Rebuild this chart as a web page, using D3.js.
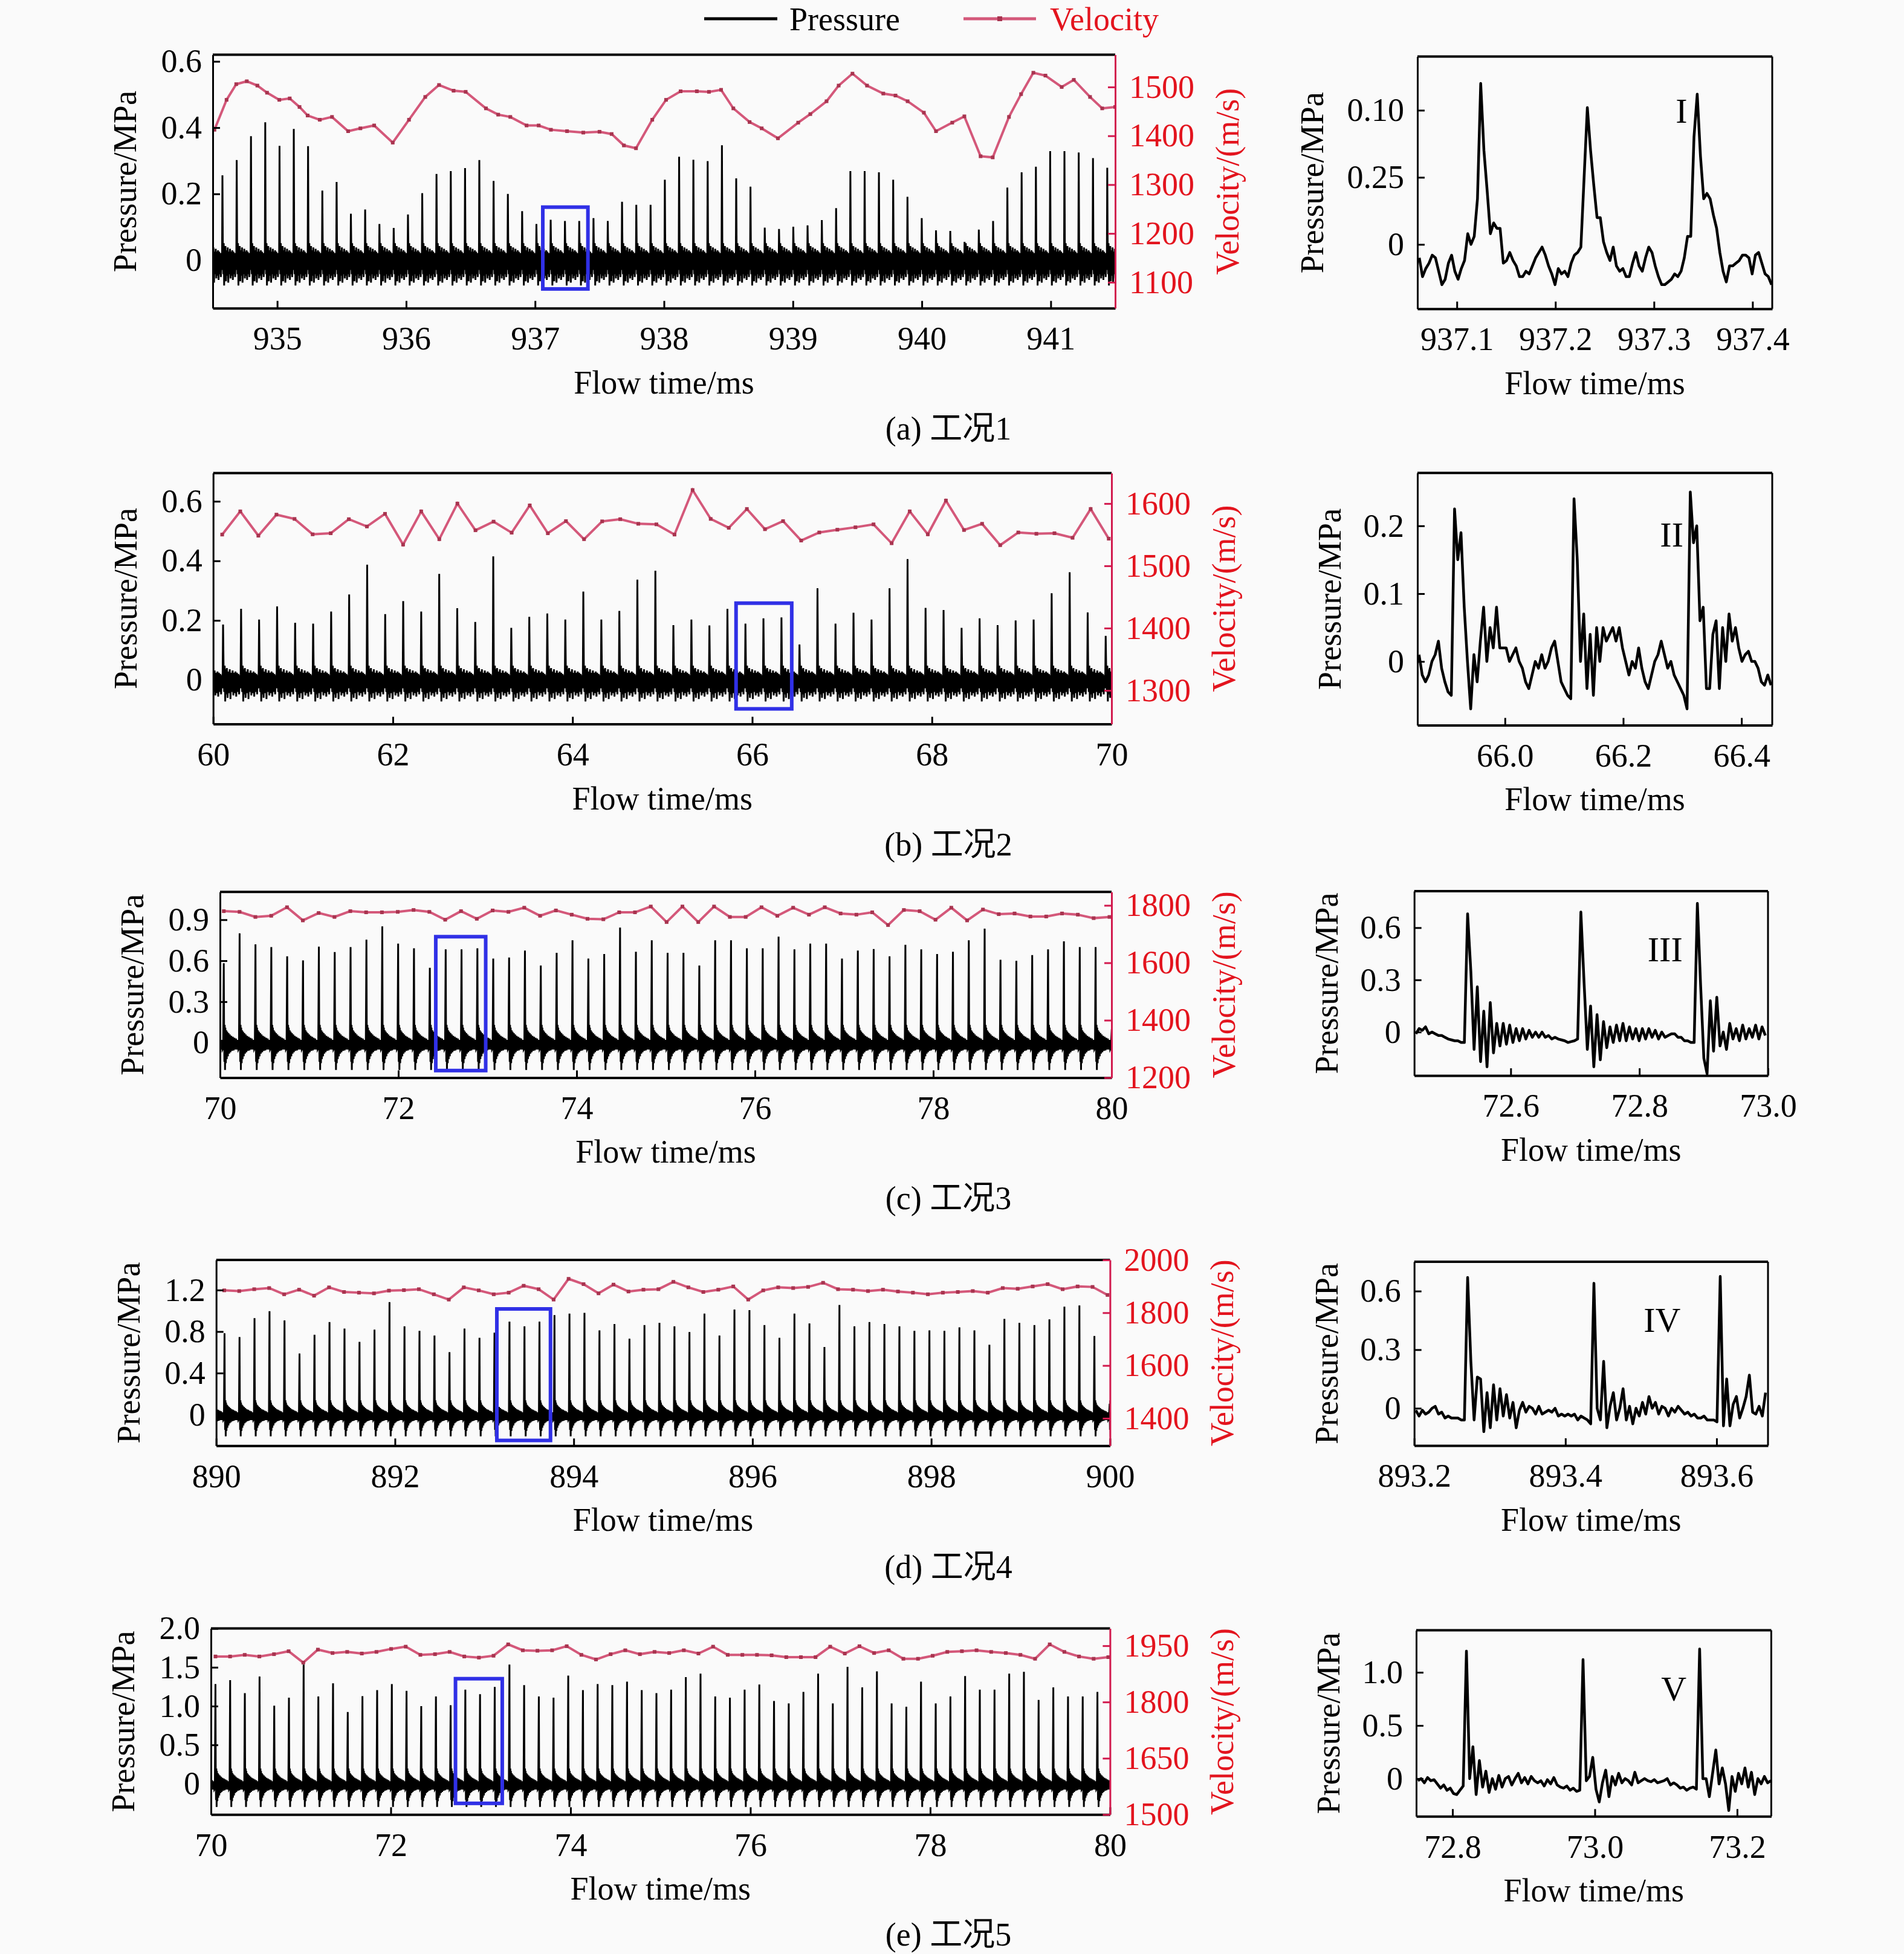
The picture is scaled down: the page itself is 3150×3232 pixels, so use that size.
<!DOCTYPE html>
<html>
<head>
<meta charset="utf-8">
<script src="https://cdn.jsdelivr.net/npm/d3@7"></script>
<style>
  body { margin: 0; background: #fafafa; }
</style>
</head>
<body>
<div id="chart"></div>
<script>
// ---------- data ----------
var captions = ["(a) 工况1", "(b) 工况2", "(c) 工况3", "(d) 工况4", "(e) 工况5"];
var insetMarks = ["I", "II", "III", "IV", "V"];

// pressure spikes: first spike time, spike period (ms) and peak heights (MPa)
var spikeStart = [934.575, 60.11, 70.042, 890.093, 70.05];
var spikePeriod = [0.1107, 0.2005, 0.1778, 0.1678, 0.1635];
var peaksA = [0.256,0.302,0.374,0.416,0.345,0.396,0.344,0.21,0.236,0.14,0.153,0.109,0.097,0.138,0.202,0.26,0.269,0.278,0.302,0.239,0.2,0.148,0.109,0.122,0.118,0.118,0.127,0.118,0.176,0.167,0.167,0.243,0.312,0.303,0.299,0.347,0.247,0.222,0.098,0.094,0.101,0.105,0.121,0.157,0.269,0.269,0.265,0.243,0.191,0.127,0.09,0.088,0.055,0.092,0.118,0.219,0.265,0.282,0.329,0.329,0.325,0.308,0.279];
var peaksB = [0.186,0.239,0.203,0.247,0.192,0.189,0.230,0.287,0.387,0.221,0.265,0.230,0.356,0.241,0.195,0.415,0.175,0.212,0.223,0.203,0.297,0.203,0.232,0.337,0.367,0.184,0.203,0.183,0.239,0.189,0.207,0.210,0.119,0.308,0.189,0.226,0.203,0.308,0.406,0.242,0.235,0.175,0.207,0.184,0.200,0.203,0.291,0.362,0.227,0.148];
var peaksC = [0.582,0.801,0.72,0.70,0.632,0.602,0.703,0.663,0.70,0.754,0.852,0.725,0.691,0.548,0.683,0.683,0.691,0.616,0.624,0.675,0.565,0.658,0.75,0.616,0.649,0.843,0.666,0.75,0.658,0.658,0.565,0.75,0.75,0.691,0.691,0.776,0.683,0.725,0.725,0.616,0.675,0.686,0.632,0.717,0.683,0.649,0.666,0.75,0.835,0.607,0.599,0.641,0.683,0.742,0.70,0.70];
var peaksD = [0.784,0.747,0.929,0.996,0.907,0.589,0.769,0.891,0.829,0.70,0.818,1.084,0.851,0.807,0.762,0.602,0.829,0.74,0.789,0.896,0.851,0.896,0.958,0.973,0.98,0.811,0.873,0.731,0.862,0.884,0.851,0.796,0.973,0.762,1.013,1.007,0.862,0.74,0.973,0.878,0.651,1.056,0.851,0.891,0.873,0.851,0.807,0.811,0.807,0.84,0.811,0.673,0.922,0.884,0.862,0.918,1.04,1.051,0.758];
var peaksE = [1.285,1.335,1.168,1.382,1.006,1.109,1.535,1.124,1.294,0.924,1.129,1.206,1.285,1.197,1.0,1.124,1.012,1.212,1.153,1.247,1.535,1.271,1.124,1.109,1.394,1.206,1.285,1.271,1.315,1.206,1.168,1.212,1.374,1.418,1.124,1.109,1.212,1.279,1.065,1.035,1.182,1.418,1.035,1.506,1.241,1.447,1.035,0.991,1.315,1.035,1.124,1.388,1.212,1.212,1.418,1.441,1.079,1.241,1.124,1.124,1.182];

// noise between spikes: [fraction of period, relative level], and its size per case (MPa)
var rippleFlat = [[0.03,0.35],[0.06,-0.5],[0.09,0.6],[0.12,-0.9],[0.15,0.45],[0.18,-0.6],[0.21,0.5],[0.25,-0.75],[0.29,0.35],[0.33,-0.55],[0.37,0.45],[0.41,-0.8],[0.45,0.3],[0.49,-0.5],[0.53,0.4],[0.57,-0.65],[0.61,0.3],[0.65,-0.55],[0.69,0.35],[0.73,-0.7],[0.77,0.3],[0.81,-0.5],[0.85,0.25],[0.89,-0.6],[0.93,0.2],[0.97,-0.35]];
var rippleDecay = [[0.02,0.5],[0.04,-0.7],[0.06,0.65],[0.08,-1.0],[0.10,0.55],[0.13,-0.75],[0.16,0.45],[0.19,-0.6],[0.22,0.4],[0.26,-0.5],[0.30,0.35],[0.34,-0.4],[0.38,0.3],[0.42,-0.35],[0.47,0.25],[0.52,-0.3],[0.57,0.22],[0.62,-0.28],[0.67,0.18],[0.72,-0.25],[0.77,0.15],[0.82,-0.25],[0.87,0.1],[0.92,-0.25],[0.96,-0.2]];
var noiseAmp = [0.085, 0.08, 0.2, 0.21, 0.3];

// velocity (m/s)
var velTimesA = [934.513,934.607,934.682,934.764,934.846,934.921,935.016,935.097,935.173,935.236,935.330,935.425,935.550,935.645,935.752,935.896,936.022,936.148,936.255,936.368,936.462,936.619,936.714,936.808,936.934,937.028,937.123,937.248,937.374,937.500,937.594,937.689,937.783,937.909,938.016,938.129,938.255,938.349,938.443,938.538,938.664,938.758,938.884,939.041,939.135,939.261,939.355,939.462,939.575,939.701,939.796,939.890,940.016,940.110,940.236,940.330,940.456,940.550,940.676,940.770,940.865,940.959,941.085,941.179,941.305,941.399,941.5];
var velA = [1412.4,1473.7,1505.8,1511.7,1502.9,1488.3,1473.7,1476.6,1459.1,1441.6,1432.9,1438.7,1409.5,1415.3,1421.2,1386.1,1432.9,1479.6,1504.1,1492.4,1490.1,1456.2,1443.4,1438.7,1421.2,1421.2,1412.4,1409.5,1406.6,1408.3,1403.7,1380.3,1374.5,1432.9,1473.7,1491.2,1491.2,1490.1,1494.2,1456.2,1428.2,1415.3,1394.9,1427,1444.5,1470.8,1502.9,1527.4,1502.9,1486.6,1482.5,1470.8,1447.4,1409.5,1427,1439.9,1358.1,1355.8,1438.7,1485.4,1529.2,1523.4,1500,1514.6,1479.6,1456.2,1459.1];
var velStart = [null, 60.1, 70.042, 890.09, 70.05];
var velStep = [null, 0.2014, 0.1774, 0.1675, 0.1628];
var velB = [1550.2,1587.4,1548.4,1582.2,1575.3,1550.6,1552.3,1574.9,1563.2,1583.5,1534.1,1587.4,1542.8,1600,1557.1,1571,1553.2,1597,1552.3,1571.8,1542.8,1571.4,1574.9,1567.5,1566.6,1550.2,1621.7,1575.3,1561,1591.3,1558.8,1571.8,1540.6,1553.6,1558,1561.9,1566.6,1536.3,1587.4,1550.6,1604.8,1557.5,1567.5,1533.2,1553.6,1551.5,1552.3,1545,1591.3,1543.6];
var velC = [1779.8,1777.4,1759.7,1763.7,1793.5,1747.6,1773.4,1759.7,1779.8,1775.8,1775.8,1777.4,1783.9,1777.4,1750,1779.8,1753.2,1782.3,1777.4,1791.9,1763.7,1782.3,1767.7,1753.2,1751.6,1775.8,1775.8,1796,1741.9,1796,1741.9,1796,1759.7,1759.7,1793.5,1763.7,1791.9,1767.7,1793.5,1771.8,1767.7,1775.8,1731.4,1783.9,1779.8,1750,1791.9,1747.6,1785.5,1769.4,1771.8,1761.3,1761.3,1771.8,1767.7,1755.6,1759.7];
var velD = [1884.7,1882.1,1889.1,1893.5,1869.9,1887.3,1864.6,1896.1,1878.6,1876,1873.4,1883.8,1885.6,1889.1,1869.9,1849.8,1896.1,1884.7,1869.9,1876,1902.2,1889.1,1849.8,1928.4,1908.3,1873.4,1906.6,1880.4,1887.3,1889.1,1917,1896.1,1878.6,1887.3,1899.6,1849.8,1884.7,1896.1,1893.5,1897.8,1913.5,1889.1,1887.3,1882.1,1887.3,1880.4,1876,1869.9,1876,1878.6,1882.1,1876,1893.5,1890.8,1899.6,1908.3,1889.1,1899.6,1897.8,1867.3];
var velE = [1921.4,1921.4,1925.7,1921.4,1927.5,1935.4,1905,1939.7,1930.6,1933.6,1929.3,1933.6,1941.5,1947.6,1925.7,1927.5,1933.6,1921.4,1918.4,1923.3,1953.7,1937.9,1936.7,1937.9,1948.8,1925.7,1913.5,1927.5,1937.9,1927.5,1933.6,1930.6,1937.9,1929.3,1947.6,1925.7,1925.7,1925.7,1924.5,1919.6,1919.6,1919.6,1947.6,1929.3,1948.8,1930.6,1937.9,1915.3,1915.3,1923.3,1933.6,1935.4,1937.9,1933.6,1930.6,1925.7,1915.3,1953.7,1933.6,1921.4,1915.3,1919.6];

// zoomed traces, sampled evenly from insetStart with insetStep (ms)
var insetStart = [937.0619, 65.8547, 72.4525, 893.2021, 72.7513];
var insetStep = [0.003279, 0.005461, 0.005031, 0.004284, 0.004552];
var insetA = [-0.05,-0.12,-0.09,-0.07,-0.04,-0.05,-0.10,-0.15,-0.13,-0.07,-0.04,-0.10,-0.13,-0.09,-0.06,0.04,0.0,0.03,0.17,0.60,0.35,0.20,0.04,0.08,0.06,0.06,-0.07,-0.06,-0.03,-0.06,-0.08,-0.12,-0.12,-0.10,-0.11,-0.08,-0.05,-0.03,-0.01,-0.04,-0.08,-0.11,-0.15,-0.09,-0.11,-0.10,-0.12,-0.07,-0.04,-0.03,-0.01,0.25,0.51,0.35,0.22,0.10,0.10,0.01,-0.03,-0.06,-0.01,-0.08,-0.10,-0.09,-0.12,-0.12,-0.07,-0.03,-0.08,-0.10,-0.05,-0.01,-0.03,-0.08,-0.12,-0.15,-0.15,-0.14,-0.13,-0.11,-0.12,-0.10,-0.05,0.03,0.03,0.40,0.56,0.33,0.17,0.19,0.17,0.11,0.06,-0.03,-0.10,-0.14,-0.08,-0.08,-0.07,-0.06,-0.04,-0.04,-0.05,-0.11,-0.04,-0.03,-0.07,-0.11,-0.12,-0.15];
var insetB = [0.01,-0.02,-0.03,-0.02,0.0,0.01,0.03,-0.01,-0.03,-0.045,-0.05,0.225,0.15,0.19,0.08,0.0,-0.07,0.01,-0.03,0.03,0.08,0.0,0.05,0.02,0.08,0.02,0.02,0.02,0.0,0.01,0.02,0.0,-0.01,-0.03,-0.04,-0.02,0.0,-0.01,0.01,-0.01,0.0,0.02,0.03,0.0,-0.03,-0.04,-0.05,-0.055,0.24,0.15,0.0,0.07,-0.04,0.04,-0.05,0.05,0.0,0.05,0.03,0.04,0.05,0.03,0.05,0.02,0.0,-0.02,0.0,-0.01,0.02,-0.01,-0.03,-0.04,-0.02,0.0,0.01,0.03,0.01,-0.01,0.0,-0.02,-0.03,-0.04,-0.05,-0.07,0.25,0.175,0.2,0.06,0.08,-0.04,-0.04,0.04,0.06,-0.04,0.05,0.0,0.07,0.03,0.05,0.02,0.0,0.01,0.015,0.0,0.0,-0.01,-0.03,-0.035,-0.02,-0.035];
var insetC = [-0.01,0.02,0.01,0.03,-0.01,0.0,-0.01,-0.02,-0.02,-0.03,-0.04,-0.045,-0.05,-0.05,-0.06,-0.06,0.68,0.35,-0.1,0.26,-0.17,0.12,-0.2,0.17,-0.12,0.05,-0.08,0.05,-0.07,0.04,-0.06,0.02,-0.05,0.02,-0.04,0.01,-0.03,0.0,-0.03,0.0,-0.03,-0.02,-0.04,-0.03,-0.04,-0.045,-0.05,-0.06,-0.055,-0.05,-0.04,0.69,0.28,-0.1,0.15,-0.2,0.1,-0.16,0.06,-0.09,0.03,-0.06,0.04,-0.05,0.05,-0.05,0.03,-0.04,0.02,-0.05,0.02,-0.04,0.02,-0.03,0.01,-0.04,0.0,-0.03,-0.02,-0.01,-0.01,-0.03,-0.03,-0.05,-0.05,-0.06,-0.06,0.74,0.27,-0.15,-0.24,0.18,-0.11,0.2,-0.08,0.0,-0.1,0.05,-0.04,0.02,-0.05,0.04,-0.04,0.02,-0.03,0.04,-0.04,0.03,-0.02];
var insetD = [-0.01,-0.04,-0.01,-0.03,-0.02,0.0,0.01,-0.03,-0.02,-0.05,-0.04,-0.05,-0.05,-0.05,-0.06,-0.06,0.67,0.24,-0.06,0.16,0.15,-0.12,0.08,-0.1,0.12,-0.06,0.1,-0.04,0.07,-0.05,0.03,-0.1,-0.01,0.03,-0.02,0.01,0.0,-0.03,0.01,-0.03,-0.02,-0.01,-0.02,0.0,-0.04,-0.03,-0.04,-0.03,-0.04,-0.03,-0.06,-0.04,-0.05,-0.06,-0.08,0.64,0.0,-0.06,0.24,-0.1,0.01,0.08,-0.06,0.0,0.1,-0.06,0.01,-0.08,0.0,-0.04,0.03,-0.03,0.06,0.0,0.03,-0.03,0.01,0.0,-0.04,0.0,-0.02,0.01,-0.01,-0.03,-0.02,-0.04,-0.03,-0.05,-0.05,-0.04,-0.06,-0.06,-0.06,-0.07,0.675,-0.09,0.15,-0.09,0.02,0.06,-0.05,0.0,0.06,0.17,-0.02,-0.03,0.01,-0.04,0.08];
var insetE = [-0.02,0.0,-0.04,0.01,-0.02,-0.01,-0.05,-0.09,-0.06,-0.11,-0.09,-0.14,-0.15,-0.11,-0.07,1.2,0.0,0.3,-0.15,0.17,-0.08,0.07,-0.13,0.0,-0.1,0.03,-0.08,0.0,0.02,-0.06,0.0,0.05,-0.04,0.01,-0.05,0.02,-0.02,-0.04,-0.02,-0.07,-0.01,-0.05,0.01,-0.06,-0.08,-0.09,-0.07,-0.11,-0.09,-0.12,-0.11,1.12,-0.02,0.02,0.2,-0.1,-0.22,-0.04,0.08,-0.17,0.02,-0.06,0.05,-0.04,0.0,-0.02,-0.06,0.06,-0.04,-0.02,0.0,-0.02,-0.03,-0.01,-0.04,-0.03,-0.02,0.0,-0.06,-0.04,-0.06,-0.09,-0.08,-0.11,-0.09,-0.08,-0.1,1.22,0.0,0.0,-0.17,0.05,0.27,-0.05,0.1,-0.05,-0.3,0.02,-0.12,0.05,-0.05,0.1,-0.08,0.06,-0.15,0.0,-0.05,0.02,-0.04,-0.02];

// zoom windows marked on the long traces: [t0, t1, p0, p1]
var zoomBoxes = [[937.06,937.41,-0.087,0.16],[65.82,66.44,-0.097,0.258],[72.42,72.98,-0.204,0.776],[893.14,893.74,-0.249,1.018],[72.72,73.24,-0.253,1.353]];

// axes
var xDomains = [[934.5,941.5],[60,70],[70,80],[890,900],[70,80]];
var pDomains = [[-0.145,0.62],[-0.148,0.695],[-0.256,1.104],[-0.30,1.49],[-0.397,2.0]];
var vDomains = [[1047,1566],[1246,1649],[1200,1847],[1296,2000],[1500,1996]];
var xTicks = [[935,936,937,938,939,940,941],[60,62,64,66,68,70],[70,72,74,76,78,80],[890,892,894,896,898,900],[70,72,74,76,78,80]];
var pTicks = [[0,0.2,0.4,0.6],[0,0.2,0.4,0.6],[0,0.3,0.6,0.9],[0,0.4,0.8,1.2],[0,0.5,1.0,1.5,2.0]];
var vTicks = [[1100,1200,1300,1400,1500],[1300,1400,1500,1600],[1200,1400,1600,1800],[1400,1600,1800,2000],[1500,1650,1800,1950]];
var insetXDomains = [[937.06,937.42],[65.852,66.452],[72.45,73.0],[893.2,893.668],[72.749,73.248]];
var insetPDomains = [[-0.24,0.70],[-0.094,0.278],[-0.25,0.81],[-0.191,0.75],[-0.355,1.396]];
var insetXTicks = [[937.1,937.2,937.3,937.4],[66.0,66.2,66.4],[72.6,72.8,73.0],[893.2,893.4,893.6],[72.8,73.0,73.2]];
var insetPTicks = [[0,0.25,0.5],[0,0.1,0.2],[0,0.3,0.6],[0,0.3,0.6],[0,0.5,1.0]];
var insetPTickLabels = [["0","0.25","0.10"],["0","0.1","0.2"],["0","0.3","0.6"],["0","0.3","0.6"],["0","0.5","1.0"]];

// ---------- layout (pixels) ----------
var layout = [
  { main: [352, 90.6, 1845, 509.7], inset: [2345, 93.6, 2932, 510.8], insetTitle: 175, caption: 708, mark: [937.328, 0.5] },
  { main: [352.7, 782.4, 1839, 1197.6], inset: [2345, 782.3, 2932, 1199.5], insetTitle: 146, caption: 1396, mark: [66.282, 0.188] },
  { main: [364, 1475.2, 1839, 1782.5], inset: [2339.7, 1474, 2925, 1779], insetTitle: 146, caption: 1981.5, mark: [72.84, 0.479] },
  { main: [357.7, 2084, 1836.4, 2391.3], inset: [2339.7, 2087.1, 2925, 2391], insetTitle: 146, caption: 2591, mark: [893.528, 0.454] },
  { main: [349, 2693.6, 1836.4, 3001.3], inset: [2343, 2696.5, 2930.4, 3004.3], insetTitle: 146, caption: 3199, mark: [73.111, 0.85] }
];

var W = 3150, H = 3232;
var serif = "'Liberation Serif','Times New Roman',serif";
var FS = 54;
var RED = "#e3141e", AXRED = "#d21a4e", VCOL = "#d4587a", VDOT = "#a8344f", BLUE = "#3030e6";

var peaks = [peaksA, peaksB, peaksC, peaksD, peaksE];
var ripples = [rippleFlat, rippleFlat, rippleDecay, rippleDecay, rippleDecay];
var vels = [velA, velB, velC, velD, velE];
var insets = [insetA, insetB, insetC, insetD, insetE];

var svg = d3.select("#chart").append("svg")
    .attr("width", W)
    .attr("height", H)
    .style("background", "#fafafa");

// legend
var legend = svg.append("g").attr("font-family", serif).attr("font-size", FS);
legend.append("line").attr("x1", 1165).attr("x2", 1286).attr("y1", 31).attr("y2", 31)
    .attr("stroke", "#000").attr("stroke-width", 5);
legend.append("text").attr("x", 1306).attr("y", 31).attr("dy", "0.35em").text("Pressure");
legend.append("line").attr("x1", 1594).attr("x2", 1714).attr("y1", 31).attr("y2", 31)
    .attr("stroke", VCOL).attr("stroke-width", 5);
legend.append("rect").attr("x", 1650).attr("y", 27).attr("width", 8).attr("height", 8).attr("fill", VDOT);
legend.append("text").attr("x", 1737).attr("y", 31).attr("dy", "0.35em").attr("fill", RED).text("Velocity");

// pressure trace: spikes with the noise pattern in between
function spikeSeries(start, period, hs, ripple, amp) {
    var pts = [];
    for (var i = -1; i <= hs.length; i++) {
        var t = start + i * period;
        if (i >= 0 && i < hs.length) pts.push([t, hs[i]]);
        ripple.forEach(function(r) { pts.push([t + r[0] * period, r[1] * amp]); });
    }
    return pts;
}

function fmtP(d) { return d === 0 ? "0" : d3.format(".1f")(d); }

function styleAxis(g, color, width) {
    g.attr("font-family", serif).attr("font-size", FS);
    g.select(".domain").attr("stroke", color).attr("stroke-width", width);
    g.selectAll(".tick line").attr("stroke", color).attr("stroke-width", 3);
    g.selectAll(".tick text").attr("fill", color === "#000" ? "#000" : RED);
}

layout.forEach(function(L, i) {
    var m = L.main;
    var x = d3.scaleLinear().domain(xDomains[i]).range([m[0], m[2]]);
    var y = d3.scaleLinear().domain(pDomains[i]).range([m[3], m[1]]);
    var yv = d3.scaleLinear().domain(vDomains[i]).range([m[3], m[1]]);

    var clipId = "clipMain" + i;
    svg.append("clipPath").attr("id", clipId).append("rect")
        .attr("x", m[0]).attr("y", m[1]).attr("width", m[2] - m[0]).attr("height", m[3] - m[1]);
    var plot = svg.append("g").attr("clip-path", "url(#" + clipId + ")");

    var pts = spikeSeries(spikeStart[i], spikePeriod[i], peaks[i], ripples[i], noiseAmp[i]);
    plot.append("path")
        .datum(pts)
        .attr("fill", "none")
        .attr("stroke", "#000")
        .attr("stroke-width", 3)
        .attr("stroke-linejoin", "miter")
        .attr("d", d3.line().x(function(d) { return x(d[0]); }).y(function(d) { return y(d[1]); }));

    var vdata = vels[i].map(function(v, k) {
        var t = i === 0 ? velTimesA[k] : velStart[i] + k * velStep[i];
        return [t, v];
    });
    plot.append("path")
        .datum(vdata)
        .attr("fill", "none")
        .attr("stroke", VCOL)
        .attr("stroke-width", 4)
        .attr("d", d3.line().x(function(d) { return x(d[0]); }).y(function(d) { return yv(d[1]); }));
    plot.selectAll(".vdot" + i)
        .data(vdata)
        .enter()
        .append("rect")
        .attr("x", function(d) { return x(d[0]) - 3; })
        .attr("y", function(d) { return yv(d[1]) - 3; })
        .attr("width", 6).attr("height", 6)
        .attr("fill", VDOT);

    // zoom window
    var zb = zoomBoxes[i];
    svg.append("rect")
        .attr("x", x(zb[0])).attr("y", y(zb[3]))
        .attr("width", x(zb[1]) - x(zb[0])).attr("height", y(zb[2]) - y(zb[3]))
        .attr("fill", "none").attr("stroke", BLUE).attr("stroke-width", 6);

    // frame + axes
    svg.append("line").attr("x1", m[0]).attr("x2", m[2]).attr("y1", m[1]).attr("y2", m[1])
        .attr("stroke", "#000").attr("stroke-width", 4);
    var gx = svg.append("g").attr("transform", "translate(0," + m[3] + ")")
        .call(d3.axisBottom(x).tickValues(xTicks[i]).tickFormat(d3.format("d"))
            .tickSize(-12).tickSizeOuter(0).tickPadding(30));
    styleAxis(gx, "#000", 4);
    var gy = svg.append("g").attr("transform", "translate(" + m[0] + ",0)")
        .call(d3.axisLeft(y).tickValues(pTicks[i]).tickFormat(fmtP)
            .tickSize(-12).tickSizeOuter(0).tickPadding(18));
    styleAxis(gy, "#000", 3);
    var gv = svg.append("g").attr("transform", "translate(" + m[2] + ",0)")
        .call(d3.axisRight(yv).tickValues(vTicks[i]).tickFormat(d3.format("d"))
            .tickSize(-12).tickSizeOuter(0).tickPadding(23));
    styleAxis(gv, AXRED, 3);

    var cy = (m[1] + m[3]) / 2;
    svg.append("text")
        .attr("transform", "translate(" + (m[0] - 146) + "," + cy + ") rotate(-90)")
        .attr("text-anchor", "middle").attr("dy", "0.35em")
        .attr("font-family", serif).attr("font-size", FS)
        .text("Pressure/MPa");
    svg.append("text")
        .attr("transform", "translate(" + (m[2] + 185) + "," + cy + ") rotate(-90)")
        .attr("text-anchor", "middle").attr("dy", "0.35em")
        .attr("font-family", serif).attr("font-size", FS).attr("fill", RED)
        .text("Velocity/(m/s)");
    svg.append("text")
        .attr("x", (m[0] + m[2]) / 2).attr("y", m[3] + 122)
        .attr("text-anchor", "middle").attr("dy", "0.35em")
        .attr("font-family", serif).attr("font-size", FS)
        .text("Flow time/ms");

    // caption
    svg.append("text")
        .attr("x", 1569).attr("y", L.caption)
        .attr("text-anchor", "middle").attr("dy", "0.35em")
        .attr("font-family", "'Liberation Serif','Noto Sans CJK SC',serif").attr("font-size", FS)
        .text(captions[i]);

    // ----- inset -----
    var n = L.inset;
    var xi = d3.scaleLinear().domain(insetXDomains[i]).range([n[0], n[2]]);
    var yi = d3.scaleLinear().domain(insetPDomains[i]).range([n[3], n[1]]);
    var clipI = "clipInset" + i;
    svg.append("clipPath").attr("id", clipI).append("rect")
        .attr("x", n[0]).attr("y", n[1]).attr("width", n[2] - n[0]).attr("height", n[3] - n[1]);
    var idata = insets[i].map(function(v, k) { return [insetStart[i] + k * insetStep[i], v]; });
    svg.append("g").attr("clip-path", "url(#" + clipI + ")")
        .append("path")
        .datum(idata)
        .attr("fill", "none")
        .attr("stroke", "#000")
        .attr("stroke-width", 4.5)
        .attr("stroke-linejoin", "round")
        .attr("d", d3.line().x(function(d) { return xi(d[0]); }).y(function(d) { return yi(d[1]); }));

    svg.append("line").attr("x1", n[0]).attr("x2", n[2]).attr("y1", n[1]).attr("y2", n[1])
        .attr("stroke", "#000").attr("stroke-width", 4);
    svg.append("line").attr("x1", n[2]).attr("x2", n[2]).attr("y1", n[1]).attr("y2", n[3])
        .attr("stroke", "#000").attr("stroke-width", 3);
    var gix = svg.append("g").attr("transform", "translate(0," + n[3] + ")")
        .call(d3.axisBottom(xi).tickValues(insetXTicks[i]).tickFormat(d3.format(".1f"))
            .tickSize(-12).tickSizeOuter(0).tickPadding(30));
    styleAxis(gix, "#000", 4);
    var labels = insetPTickLabels[i];
    var giy = svg.append("g").attr("transform", "translate(" + n[0] + ",0)")
        .call(d3.axisLeft(yi).tickValues(insetPTicks[i])
            .tickFormat(function(d, k) { return labels[k]; })
            .tickSize(-12).tickSizeOuter(0).tickPadding(22));
    styleAxis(giy, "#000", 3);

    svg.append("text")
        .attr("transform", "translate(" + (n[0] - L.insetTitle) + "," + ((n[1] + n[3]) / 2) + ") rotate(-90)")
        .attr("text-anchor", "middle").attr("dy", "0.35em")
        .attr("font-family", serif).attr("font-size", FS)
        .text("Pressure/MPa");
    svg.append("text")
        .attr("x", (n[0] + n[2]) / 2).attr("y", n[3] + 122)
        .attr("text-anchor", "middle").attr("dy", "0.35em")
        .attr("font-family", serif).attr("font-size", FS)
        .text("Flow time/ms");
    svg.append("text")
        .attr("x", xi(L.mark[0])).attr("y", yi(L.mark[1]))
        .attr("text-anchor", "middle").attr("dy", "0.35em")
        .attr("font-family", serif).attr("font-size", 58)
        .text(insetMarks[i]);
});
</script>
</body>
</html>
